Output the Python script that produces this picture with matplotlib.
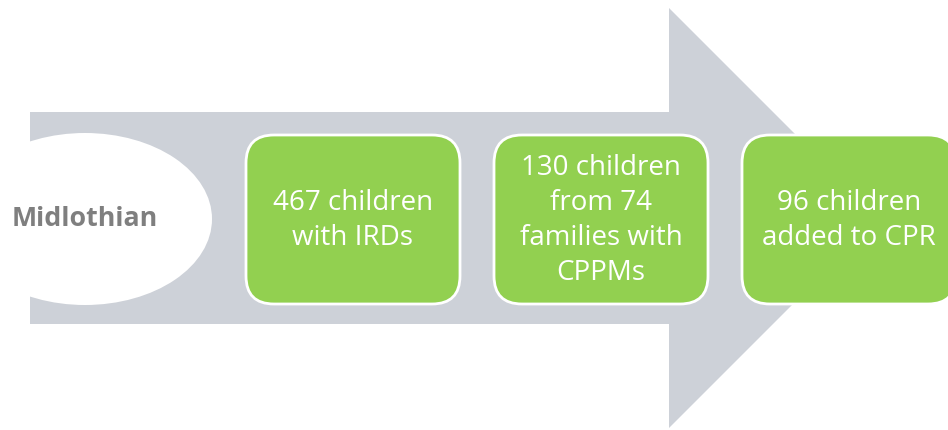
import matplotlib.pyplot as plt
from matplotlib.patches import Polygon, Ellipse, FancyBboxPatch

# contenu du schema
start_label = "Midlothian"
steps = ["467 children\nwith IRDs",
         "130 children\nfrom 74\nfamilies with\nCPPMs",
         "96 children\nadded to CPR"]

# couleurs
gray = "#CDD1D8"
green = "#92D050"
text_gray = "#7F7F7F"

W, H = 948, 430
fig = plt.figure(figsize=(W / 100, H / 100), dpi=100)
ax = fig.add_axes([0, 0, 1, 1])
ax.set_xlim(0, W)
ax.set_ylim(H, 0)
ax.axis("off")

# grande fleche grise (coordonnees en pixels, y vers le bas)
x0, x_head, x_tip = 30, 669, 879
y_mid = 218
shaft_half, head_half = 106, 210
arrow = Polygon([(x0, y_mid - shaft_half), (x_head, y_mid - shaft_half),
                 (x_head, y_mid - head_half), (x_tip, y_mid),
                 (x_head, y_mid + head_half), (x_head, y_mid + shaft_half),
                 (x0, y_mid + shaft_half)],
                closed=True, facecolor=gray, edgecolor="none")
ax.add_patch(arrow)

# ellipse blanche a gauche
ax.add_patch(Ellipse((85, 219), 254, 172, facecolor="white", edgecolor="none"))
ax.text(85, 219, start_label, ha="center", va="center", fontsize=19.3,
        fontweight="bold", color=text_gray, family="Open Sans")

# boites vertes arrondies
box_left = [246, 494, 742]
box_w, box_top, box_h = 214, 135, 169
for xl, lab in zip(box_left, steps):
    ax.add_patch(FancyBboxPatch((xl, box_top), box_w, box_h,
                                boxstyle="round,pad=0,rounding_size=28",
                                facecolor=green, edgecolor="white", lw=2))
    ax.text(xl + box_w / 2, box_top + box_h / 2 + 1, lab, ha="center",
            va="center", fontsize=20, color="white", family="Open Sans",
            linespacing=1.32)

fig.savefig("out.png", dpi=100)
